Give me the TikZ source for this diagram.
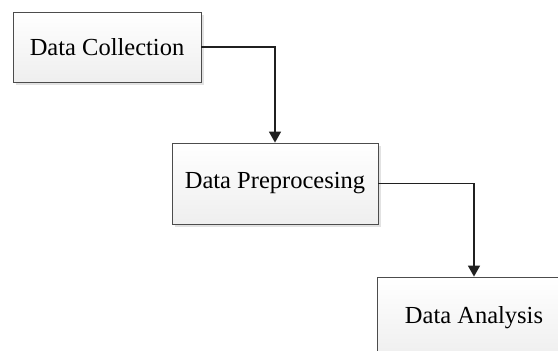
\documentclass[tikz,border=0pt]{standalone}
\usepackage{fontspec}
\setmainfont{Liberation Serif}
\usetikzlibrary{arrows.meta,shadows}

\tikzset{
  stage/.style   = {shape=rectangle, draw=gray!60!black, line width=0.8pt,
                    align=center, inner sep=0pt,
                    top color=white, bottom color=gray!13,
                    drop shadow={shadow xshift=2.5pt, shadow yshift=-2.5pt,
                                 fill=gray!50, opacity=.45},
                    font=\fontsize{24.5}{29}\selectfont},
  collect/.style = {stage, minimum width=188pt, minimum height=70pt},
  prep/.style    = {stage, minimum width=206pt, minimum height=81pt},
  analyse/.style = {stage, minimum width=194pt, minimum height=81pt},
  flow/.style    = {draw=gray!25!black, line width=1.5pt,
                    -{Triangle[width=12pt,length=11pt]}}
}

\begin{document}
\begin{tikzpicture}[x=1pt, y=-1pt]
\clip (0,0) rectangle (558,351);
\node[collect] (collection) at (107,47)    {Data Collection};
\node[prep]    (preproc)    at (275,183.5) {Data Preprocesing};
\node[analyse] (analysis)   at (474,317.5) {Data Analysis};
\draw[flow] (collection.east) -| (preproc.north);
\draw[flow] (preproc.east) -| (analysis.north);
\end{tikzpicture}
\end{document}
